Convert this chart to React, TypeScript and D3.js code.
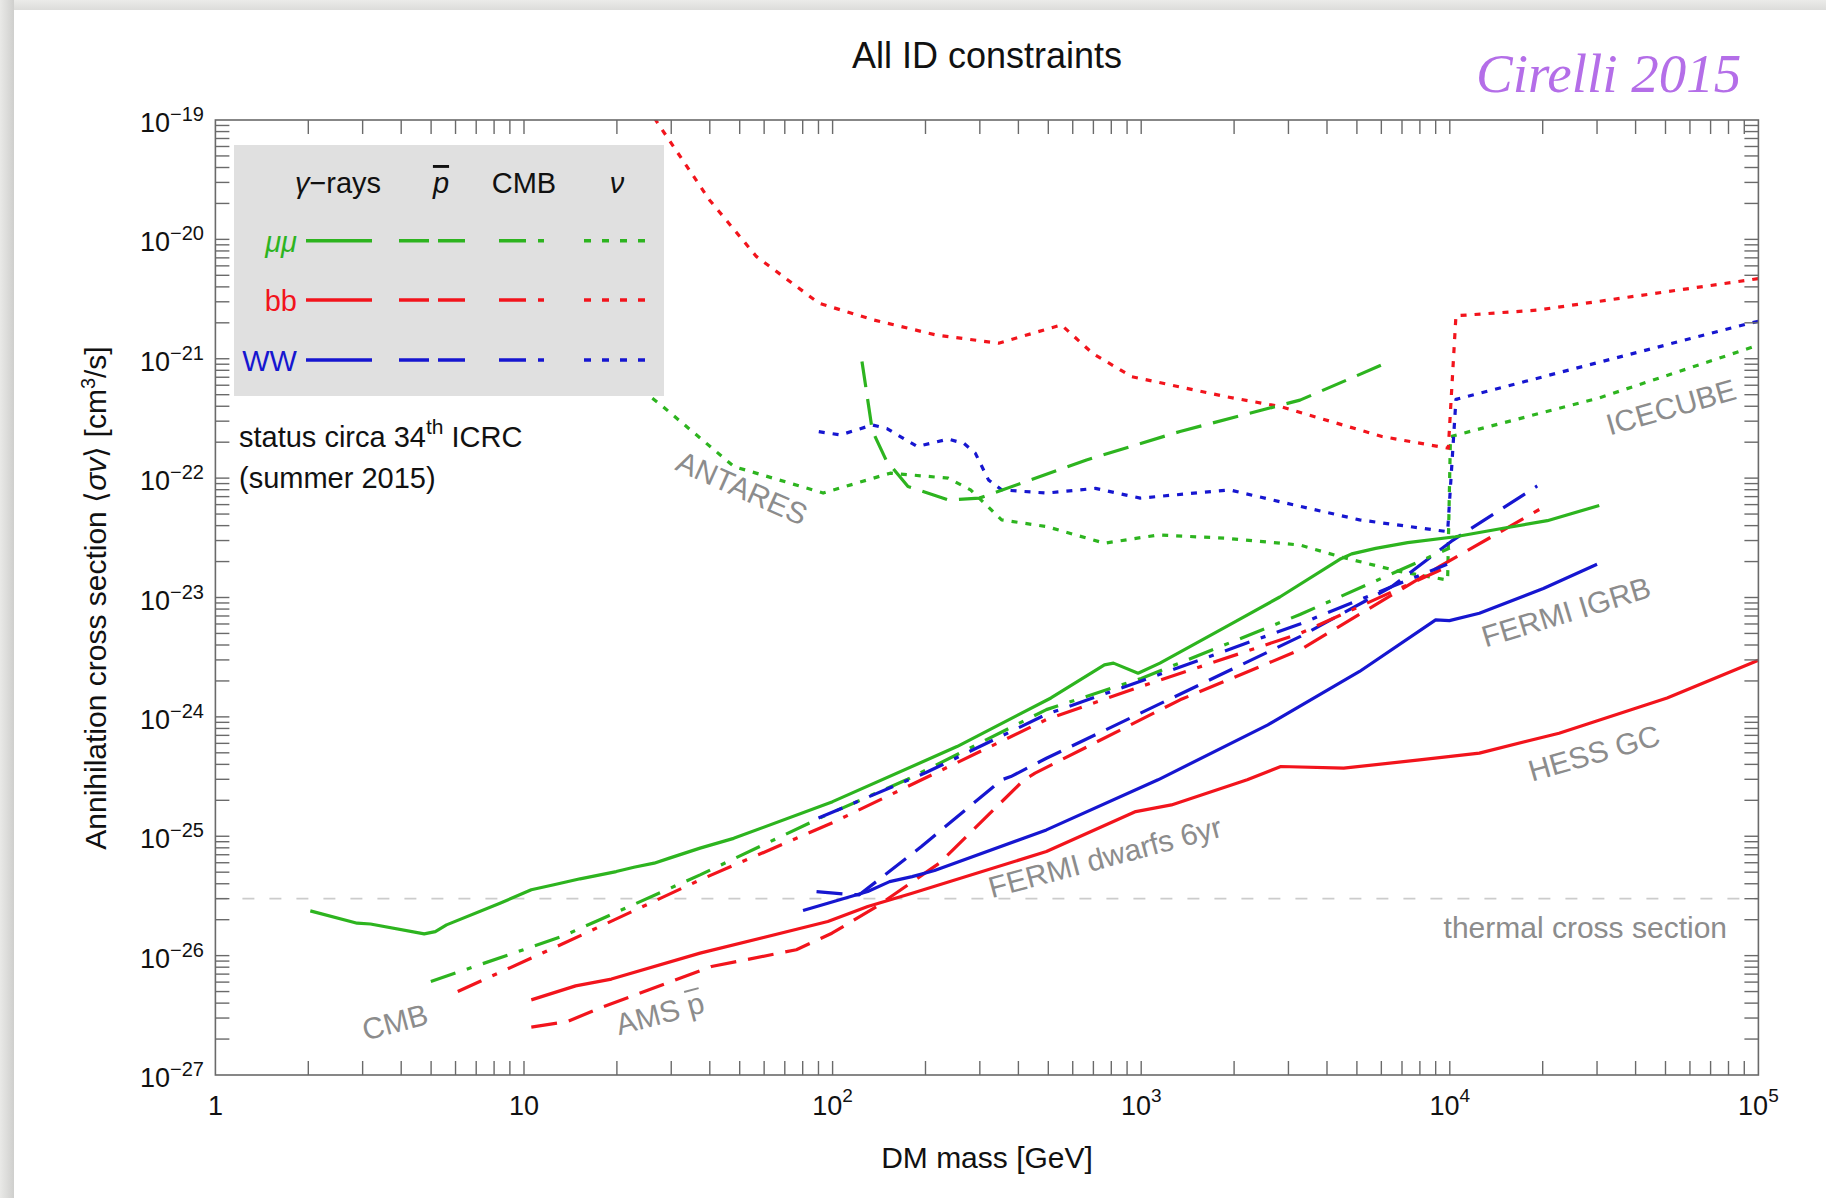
import React from 'react';
import * as d3 from 'd3';

type Pt = [number, number];

// ---------- data (DM mass [GeV], <σv> [cm^3/s]) ----------
const muGamma: Pt[] = [[2.03,2.37e-26],[2.88,1.87e-26],[3.18,1.84e-26],[4.75,1.52e-26],[5.16,1.59e-26],[5.61,1.81e-26],[8.36,2.75e-26],[10.56,3.56e-26],[12.5,3.92e-26],[15.2,4.4e-26],[19.9,5.06e-26],[22.7,5.5e-26],[26.4,5.95e-26],[29.6,6.56e-26],[37.2,7.95e-26],[47.8,9.6e-26],[100,1.95e-25],[253,5.64e-25],[510,1.44e-24],[760,2.73e-24],[813,2.82e-24],[977,2.32e-24],[1150,2.82e-24],[1932,5.89e-24],[2813,1.01e-23],[4400,2.09e-23],[4810,2.32e-23],[5750,2.58e-23],[7300,2.88e-23],[10420,3.23e-23],[14900,3.8e-23],[20700,4.4e-23],[30500,5.9e-23]];
const bbGamma: Pt[] = [[10.56,4.26e-27],[14.7,5.58e-27],[19.2,6.36e-27],[37.2,1.05e-26],[96.5,1.93e-26],[130,2.58e-26],[181,3.33e-26],[493,7.45e-26],[960,1.61e-25],[1253,1.83e-25],[2206,2.97e-25],[2834,3.84e-25],[4530,3.72e-25],[7980,4.36e-25],[12470,4.97e-25],[22600,7.3e-25],[50600,1.44e-24],[100000,2.98e-24]];
const wwGamma: Pt[] = [[80.2,2.39e-26],[96.5,2.75e-26],[130,3.44e-26],[153,4.17e-26],[181,4.59e-26],[214,5.16e-26],[493,1.13e-25],[1134,2.97e-25],[2573,8.57e-25],[5100,2.4e-24],[9000,6.5e-24],[9970,6.4e-24],[12470,7.38e-24],[20100,1.19e-23],[30000,1.9e-23]];
const muCMB: Pt[] = [[4.99,6.07e-27],[13.3,1.45e-26],[17.6,2.0e-26],[37.2,4.75e-26],[93,1.46e-25],[175,3.0e-25],[493,1.15e-24],[1000,2.1e-24],[3270,7.2e-24],[10000,2.6e-23]];
const bbCMB: Pt[] = [[6.1,5e-27],[13.3,1.25e-26],[37.2,4.31e-26],[100,1.3e-25],[493,9.5e-25],[1000,1.8e-24],[3270,5.0e-24],[9500,1.74e-23]];
const wwCMB: Pt[] = [[90,1.42e-25],[200,3.4e-25],[493,1.05e-24],[1000,2.0e-24],[3270,6.0e-24],[9800,1.9e-23]];
const muPbar: Pt[] = [[124.5,9.5e-22],[130,4.5e-22],[134.5,2.5e-22],[149,1.42e-22],[175.5,8.5e-23],[237,6.56e-23],[299,6.8e-23],[665,1.42e-22],[1336,2.46e-22],[3270,4.5e-22],[6200,9.17e-22]];
const bbPbar: Pt[] = [[10.56,2.52e-27],[13.8,2.8e-27],[17.6,3.63e-27],[40.5,8.1e-27],[76.3,1.12e-26],[99.5,1.54e-26],[139,2.58e-26],[222,5.96e-26],[417,2.97e-25],[453,3.38e-25],[1337,1.39e-24],[3270,3.64e-24],[9270,1.82e-23],[19500,5.46e-23]];
const wwPbar: Pt[] = [[88.7,3.44e-26],[108,3.29e-26],[122,3.23e-26],[194,8.2e-26],[353,2.97e-25],[378,3.16e-25],[493,4.5e-25],[3270,4.7e-24],[6470,1.23e-23],[10100,2.95e-23],[19200,8.6e-23]];
const muNu: Pt[] = [[24,5.5e-22],[28.1,4.0e-22],[47.9,1.25e-22],[93.2,7.5e-23],[153.7,1.1e-22],[237,1.0e-22],[280,7.97e-23],[353,4.47e-23],[493,3.93e-23],[760,2.85e-23],[1135,3.34e-23],[1870,3.14e-23],[3270,2.75e-23],[4400,2.2e-23],[6880,1.65e-23],[9840,1.4e-23],[10050,2.23e-22],[30500,4.7e-22],[100000,1.3e-21]];
const bbNu: Pt[] = [[25,1.3e-19],[26.7,1e-19],[39.9,2.14e-20],[56.6,7.2e-21],[90.3,2.92e-21],[136,2.11e-21],[217,1.58e-21],[345,1.35e-21],[551,1.92e-21],[696,1.11e-21],[931,7.08e-22],[1876,4.82e-22],[2820,3.98e-22],[6030,2.23e-22],[9890,1.78e-22],[10470,2.29e-21],[19300,2.56e-21],[93500,4.57e-21],[100000,4.7e-21]];
const wwNu: Pt[] = [[90.2,2.45e-22],[106,2.3e-22],[134.5,2.79e-22],[150,2.6e-22],[188,1.84e-22],[237,2.12e-22],[266,1.96e-22],[290,1.62e-22],[320,9.66e-23],[353,7.97e-23],[493,7.5e-23],[711,8.2e-23],[993,6.8e-23],[1932,7.97e-23],[2813,6.35e-23],[5100,4.47e-23],[9840,3.56e-23],[10470,4.57e-22],[93500,1.98e-21],[100000,2.06e-21]];

const thermalXS = 3e-26;
const xDecadeExps = [0, 1, 2, 3, 4, 5];
const yDecadeExps = [-19, -20, -21, -22, -23, -24, -25, -26, -27];
const channels = ['μμ', 'bb', 'WW'];
const probes = ['γ−rays', 'p', 'CMB', 'ν'];

const GREEN = '#2db41f';
const RED = '#f2141c';
const BLUE = '#1616d0';
const GRAY_TXT = '#8c8c8c';

const DASH = '26,12';
const DASHDOT = '26,12,5,12';
const DOT = '6,8';

const FONT = '"Liberation Sans", Arial, Helvetica, sans-serif';

const series = [
  { data: muNu, color: GREEN, dash: DOT },
  { data: bbNu, color: RED, dash: DOT },
  { data: wwNu, color: BLUE, dash: DOT },
  { data: muPbar, color: GREEN, dash: DASH },
  { data: bbPbar, color: RED, dash: DASH },
  { data: wwPbar, color: BLUE, dash: DASH },
  { data: muCMB, color: GREEN, dash: DASHDOT },
  { data: bbCMB, color: RED, dash: DASHDOT },
  { data: wwCMB, color: BLUE, dash: DASHDOT },
  { data: bbGamma, color: RED, dash: null },
  { data: wwGamma, color: BLUE, dash: null },
  { data: muGamma, color: GREEN, dash: null },
];

export default function App() {
  const W = 1826, H = 1198;
  const L = 215.4, R = 1758.4, T = 120, B = 1075;
  const x = d3.scaleLog().domain([1, 1e5]).range([L, R]);
  const y = d3.scaleLog().domain([1e-27, 1e-19]).range([B, T]);
  const line = d3.line<Pt>().x(d => x(d[0])).y(d => y(d[1]));

  const xMinor: number[] = [];
  for (let k = 0; k < 5; k++) for (let j = 1; j <= 9; j++) { const v = j * Math.pow(10, k); if (v > 1 && v < 1e5) xMinor.push(v); }
  const yMinor: number[] = [];
  for (let k = -27; k < -19; k++) for (let j = 1; j <= 9; j++) { const v = j * Math.pow(10, k); if (v > 1.0001e-27 && v < 0.9999e-19) yMinor.push(v); }
  const tick = 14;
  const frameColor = '#6a6a6a';

  const legendRows = [GREEN, RED, BLUE];
  const legendRowY = [240.7, 300, 360];
  const legendSegs = [
    { x1: 306, x2: 372, dash: null },
    { x1: 399, x2: 465, dash: '30,9' },
    { x1: 499, x2: 545, dash: '27,12,6,20' },
    { x1: 584, x2: 645, dash: '7,11' },
  ];
  const headerX = [338, 441, 524, 617];

  return (
    <svg width={W} height={H} style={{ position: 'absolute', left: 0, top: 0, display: 'block' }} fontFamily={FONT}>
      <defs>
        <clipPath id="plotClip"><rect x={L} y={T} width={R - L} height={B - T} /></clipPath>
        <linearGradient id="leftShade" x1="0" x2="1" y1="0" y2="0">
          <stop offset="0" stopColor="#e9e9e7" />
          <stop offset="1" stopColor="#cfcfcd" />
        </linearGradient>
        <linearGradient id="topShade" x1="0" x2="0" y1="0" y2="1">
          <stop offset="0" stopColor="#ebebe9" />
          <stop offset="1" stopColor="#dcdcda" />
        </linearGradient>
      </defs>
      <rect x={0} y={0} width={W} height={H} fill="#e8e8e6" />
      <rect x={0} y={0} width={W} height={10} fill="url(#topShade)" />
      <rect x={0} y={0} width={14} height={H} fill="url(#leftShade)" />
      <rect x={14} y={10} width={W - 14} height={H - 10} fill="#ffffff" />

      {/* title */}
      <text x={987} y={68} fontSize={36} textAnchor="middle" fill="#111">All ID constraints</text>
      <text x={1476} y={92} fontSize={55} fontStyle="italic" fill="#b46ee8" fontFamily='"Liberation Serif", "DejaVu Serif", serif'>Cirelli 2015</text>

      {/* thermal line */}
      <line x1={L} x2={R} y1={y(thermalXS)} y2={y(thermalXS)} stroke="#cccccc" strokeWidth={1.6} strokeDasharray="12,15" />

      {/* data */}
      <g clipPath="url(#plotClip)" fill="none">
        {series.map((s, i) => (
          <path key={i} d={line(s.data) || ''} stroke={s.color} strokeWidth={3.2}
            strokeDasharray={s.dash || undefined} strokeLinejoin="round" />
        ))}
      </g>

      {/* frame & ticks */}
      <rect x={L} y={T} width={R - L} height={B - T} fill="none" stroke={frameColor} strokeWidth={1.6} />
      {xMinor.map((v, i) => (
        <g key={'xt' + i} stroke={frameColor} strokeWidth={1.4}>
          <line x1={x(v)} x2={x(v)} y1={B} y2={B - tick} />
          <line x1={x(v)} x2={x(v)} y1={T} y2={T + tick} />
        </g>
      ))}
      {yMinor.map((v, i) => (
        <g key={'yt' + i} stroke={frameColor} strokeWidth={1.4}>
          <line x1={L} x2={L + tick} y1={y(v)} y2={y(v)} />
          <line x1={R} x2={R - tick} y1={y(v)} y2={y(v)} />
        </g>
      ))}

      {/* x tick labels */}
      {xDecadeExps.map(e => (
        <text key={'xl' + e} x={x(Math.pow(10, e))} y={1115} fontSize={27} textAnchor="middle" fill="#111">
          {e === 0 ? '1' : e === 1 ? '10' : (<><tspan>10</tspan><tspan dy={-13} fontSize={19}>{String(e)}</tspan></>)}
        </text>
      ))}
      {/* y tick labels */}
      {yDecadeExps.map(e => (
        <text key={'yl' + e} x={204} y={y(Math.pow(10, e)) + 12} fontSize={27} textAnchor="end" fill="#111">
          <tspan>10</tspan><tspan dy={-11} fontSize={20}>{'−' + String(-e)}</tspan>
        </text>
      ))}

      {/* axis titles */}
      <text x={987} y={1168} fontSize={30} textAnchor="middle" fill="#111">DM mass [GeV]</text>
      <text transform="translate(106,598) rotate(-90)" fontSize={30} textAnchor="middle" fill="#111">
        Annihilation cross section ⟨<tspan fontStyle="italic">σv</tspan>⟩ [cm<tspan dy={-11} fontSize={20}>3</tspan><tspan dy={11}>/s]</tspan>
      </text>

      {/* curve labels */}
      <g fill={GRAY_TXT} fontSize={30}>
        <text transform="translate(742,488) rotate(24)" textAnchor="middle" dominantBaseline="central">ANTARES</text>
        <text transform="translate(1671,407) rotate(-16)" textAnchor="middle" dominantBaseline="central">ICECUBE</text>
        <text transform="translate(1566,612) rotate(-17)" textAnchor="middle" dominantBaseline="central">FERMI IGRB</text>
        <text transform="translate(1594,753) rotate(-16)" textAnchor="middle" dominantBaseline="central">HESS GC</text>
        <text transform="translate(1105,857) rotate(-15)" textAnchor="middle" dominantBaseline="central">FERMI dwarfs 6yr</text>
        <text transform="translate(395,1022) rotate(-15)" textAnchor="middle" dominantBaseline="central">CMB</text>
        <g transform="translate(660,1014) rotate(-15)">
          <text x={0} y={10} textAnchor="middle">AMS p</text>
          <line x1={29} x2={44} y1={-15} y2={-15} stroke={GRAY_TXT} strokeWidth={2} />
        </g>
        <text x={1727} y={938} textAnchor="end">thermal cross section</text>
      </g>

      {/* legend */}
      <rect x={234} y={145} width={430} height={251} fill="#e0e0e0" />
      {probes.map((p, i) => (
        <text key={'h' + i} x={headerX[i]} y={193} fontSize={29} textAnchor="middle" fill="#111"
          fontStyle={i === 2 ? 'normal' : 'italic'} style={i === 1 ? { textDecoration: 'overline' } : undefined}>
          {i === 0 ? (<><tspan fontStyle="italic">γ</tspan><tspan fontStyle="normal">−rays</tspan></>) : p}
        </text>
      ))}
      {channels.map((c, r) => (
        <g key={'row' + r}>
          <text x={297} y={legendRowY[r] + 11} fontSize={29} textAnchor="end" fill={legendRows[r]}
            fontStyle={r === 0 ? 'italic' : 'normal'}>{c}</text>
          {legendSegs.map((s, j) => (
            <line key={j} x1={s.x1} x2={s.x2} y1={legendRowY[r]} y2={legendRowY[r]} stroke={legendRows[r]}
              strokeWidth={3.4} strokeDasharray={s.dash || undefined} />
          ))}
        </g>
      ))}

      {/* status note */}
      <text x={239} y={447} fontSize={29} fill="#111">status circa 34<tspan dy={-13} fontSize={21}>th</tspan><tspan dy={13}> ICRC</tspan></text>
      <text x={239} y={488} fontSize={29} fill="#111">(summer 2015)</text>
    </svg>
  );
}
